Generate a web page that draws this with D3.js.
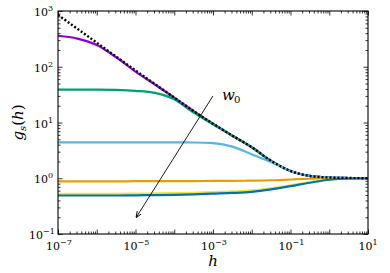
<!DOCTYPE html>
<html>
<head>
<meta charset="utf-8">
<script src="https://cdn.jsdelivr.net/npm/d3@7"></script>
<style>
  body { margin: 0; background: #fff; }
</style>
</head>
<body>
<div id="chart"></div>
<script>
// sample points along h (half decades)
const hValues = [1e-7, 3.16e-7, 1e-6, 3.16e-6, 1e-5, 3.16e-5, 1e-4, 3.16e-4, 1e-3,
                 3.16e-3, 1e-2, 3.16e-2, 1e-1, 3.16e-1, 1, 3.16, 10];

const purple = [360, 320, 245, 148, 82, 48, 28, 16, 9.5, 5.8, 3.6, 2.05, 1.35, 1.1, 1.03, 1.01, 1.0];
const green  = [39, 39, 39, 38.5, 37, 34, 26, 15, 9.3, 5.8, 3.6, 2.05, 1.35, 1.1, 1.03, 1.01, 1.0];
const sky    = [4.4, 4.4, 4.4, 4.4, 4.4, 4.4, 4.4, 4.38, 4.25, 3.7, 2.7, 1.95, 1.35, 1.1, 1.03, 1.01, 1.0];
const orange = [0.88, 0.88, 0.88, 0.88, 0.885, 0.885, 0.89, 0.89, 0.895, 0.9, 0.905, 0.92, 0.95, 0.98, 1.0, 1.0, 1.0];
const yellow = [0.525, 0.525, 0.525, 0.525, 0.53, 0.535, 0.54, 0.55, 0.565, 0.58, 0.605, 0.66, 0.745, 0.85, 0.95, 0.99, 1.0];
const blue   = [0.49, 0.49, 0.49, 0.49, 0.495, 0.5, 0.505, 0.515, 0.53, 0.545, 0.57, 0.63, 0.72, 0.83, 0.94, 0.99, 1.0];
const limit  = [850, 480, 270, 152, 86, 49, 28, 16, 9.5, 5.8, 3.6, 2.05, 1.35, 1.1, 1.03, 1.01, 1.0];

const seriesNames = ['purple', 'green', 'sky', 'orange', 'yellow', 'blue'];
const seriesValues = [purple, green, sky, orange, yellow, blue];
const seriesColors = ['#9400d3', '#009e73', '#56b4e9', '#e69f00', '#f0e442', '#0072b2'];

const xTickExps = [-7, -5, -3, -1, 1];
const yTickExps = [-1, 0, 1, 2, 3];

// arrow for w0 (data coordinates)
const arrowFrom = [1e-3, 30];
const arrowTo = [1.05e-5, 0.2];
const arrowLabel = [1.7e-3, 30];

const serif = '"DejaVu Serif", "Liberation Serif", serif';

const width = 390, height = 273;
const margin = {top: 11, right: 22, bottom: 39, left: 58};
const innerWidth = width - margin.left - margin.right;
const innerHeight = height - margin.top - margin.bottom;

const svg = d3.select('#chart').append('svg')
  .attr('width', width)
  .attr('height', height)
  .attr('font-family', serif);

const xScale = d3.scaleLog().domain([1e-7, 1e1]).range([0, innerWidth]);
const yScale = d3.scaleLog().domain([1e-1, 1e3]).range([innerHeight, 0]);

const g = svg.append('g')
  .attr('transform', `translate(${margin.left}, ${margin.top})`);

// tick values
const minorOf = (lo, hi) => {
  const out = [];
  for (let k = lo; k < hi; k++) for (let m = 2; m <= 9; m++) out.push(m * Math.pow(10, k));
  return out;
};
const xMajor = d3.range(-7, 2).map(e => Math.pow(10, e));
const yMajor = d3.range(-1, 4).map(e => Math.pow(10, e));
const xMinor = minorOf(-7, 1);
const yMinor = minorOf(-1, 3);

const tickAxis = (axisFn, scale, values, size) =>
  axisFn(scale).tickValues(values).tickSize(size).tickFormat('');

const drawAxis = (axis, tf) => {
  const a = g.append('g').attr('transform', tf).call(axis);
  a.select('.domain').remove();
  a.selectAll('line').attr('stroke', '#000').attr('stroke-width', 0.8);
};

drawAxis(tickAxis(d3.axisBottom, xScale, xMajor, -4.5), `translate(0, ${innerHeight})`);
drawAxis(tickAxis(d3.axisBottom, xScale, xMinor, -2.5), `translate(0, ${innerHeight})`);
drawAxis(tickAxis(d3.axisTop, xScale, xMajor, -4.5), 'translate(0, 0)');
drawAxis(tickAxis(d3.axisTop, xScale, xMinor, -2.5), 'translate(0, 0)');
drawAxis(tickAxis(d3.axisLeft, yScale, yMajor, -4.5), 'translate(0, 0)');
drawAxis(tickAxis(d3.axisLeft, yScale, yMinor, -2.5), 'translate(0, 0)');
drawAxis(tickAxis(d3.axisRight, yScale, yMajor, -4.5), `translate(${innerWidth}, 0)`);
drawAxis(tickAxis(d3.axisRight, yScale, yMinor, -2.5), `translate(${innerWidth}, 0)`);

// tick labels 10^k: base and exponent as two texts
const expText = e => (e < 0 ? '\u2212' + Math.abs(e) : String(e));

xTickExps.forEach(e => {
  const x = xScale(Math.pow(10, e));
  const expW = e < 0 ? 10 : 5;
  g.append('text')
    .attr('x', x - expW / 2)
    .attr('y', innerHeight + 16)
    .attr('text-anchor', 'middle')
    .attr('font-size', 11)
    .text('10');
  g.append('text')
    .attr('x', x - expW / 2 + 7)
    .attr('y', innerHeight + 11)
    .attr('font-size', 8)
    .text(expText(e));
});

yTickExps.forEach(e => {
  const y = yScale(Math.pow(10, e));
  const expW = e < 0 ? 10 : 5;
  g.append('text')
    .attr('x', -5 - expW)
    .attr('y', y + 5)
    .attr('text-anchor', 'end')
    .attr('font-size', 11)
    .text('10');
  g.append('text')
    .attr('x', -5 - expW)
    .attr('y', y)
    .attr('font-size', 8)
    .text(expText(e));
});

// curves
svg.append('clipPath').attr('id', 'plot-clip')
  .append('rect').attr('width', innerWidth).attr('height', innerHeight);

const lineGenerator = d3.line()
  .x(d => xScale(d[0]))
  .y(d => yScale(d[1]))
  .curve(d3.curveMonotoneX);

const plot = g.append('g').attr('clip-path', 'url(#plot-clip)');

seriesValues.forEach((vals, i) => {
  plot.append('path')
    .attr('class', 'line-' + seriesNames[i])
    .attr('fill', 'none')
    .attr('stroke', seriesColors[i])
    .attr('stroke-width', 2.2)
    .attr('d', lineGenerator(hValues.map((h, j) => [h, vals[j]])));
});

plot.append('path')
  .attr('fill', 'none')
  .attr('stroke', '#000')
  .attr('stroke-width', 2.4)
  .attr('stroke-dasharray', '2 2')
  .attr('d', lineGenerator(hValues.map((h, j) => [h, limit[j]])));

// frame
g.append('rect')
  .attr('width', innerWidth)
  .attr('height', innerHeight)
  .attr('fill', 'none')
  .attr('stroke', '#000')
  .attr('stroke-width', 1.1);

// arrow
svg.append('defs').append('marker')
  .attr('id', 'arrowhead')
  .attr('viewBox', '0 0 10 10')
  .attr('refX', 9).attr('refY', 5)
  .attr('markerWidth', 7).attr('markerHeight', 7)
  .attr('orient', 'auto')
  .append('path')
  .attr('d', 'M0,1 L10,5 L0,9')
  .attr('fill', 'none')
  .attr('stroke', '#000')
  .attr('stroke-width', 1.4);

g.append('line')
  .attr('x1', xScale(arrowFrom[0])).attr('y1', yScale(arrowFrom[1]))
  .attr('x2', xScale(arrowTo[0])).attr('y2', yScale(arrowTo[1]))
  .attr('stroke', '#000')
  .attr('stroke-width', 0.9)
  .attr('marker-end', 'url(#arrowhead)');

const lx = xScale(arrowLabel[0]), ly = yScale(arrowLabel[1]) + 4;
g.append('text')
  .attr('x', lx).attr('y', ly)
  .attr('font-size', 15)
  .attr('font-style', 'italic')
  .text('w');
g.append('text')
  .attr('x', lx + 12).attr('y', ly + 3)
  .attr('font-size', 10)
  .text('0');

// axis titles
svg.append('text')
  .attr('x', margin.left + innerWidth / 2)
  .attr('y', 266)
  .attr('text-anchor', 'middle')
  .attr('font-size', 15)
  .attr('font-style', 'italic')
  .text('h');

const yl = svg.append('text')
  .attr('transform', `translate(23, ${margin.top + innerHeight / 2}) rotate(-90)`)
  .attr('text-anchor', 'middle')
  .attr('font-size', 15);
yl.append('tspan').attr('font-style', 'italic').text('g');
yl.append('tspan').attr('dy', 3).attr('font-size', 10).attr('font-style', 'italic').text('s');
yl.append('tspan').attr('dy', -3).text('(');
yl.append('tspan').attr('font-style', 'italic').text('h');
yl.append('tspan').text(')');
</script>
</body>
</html>
